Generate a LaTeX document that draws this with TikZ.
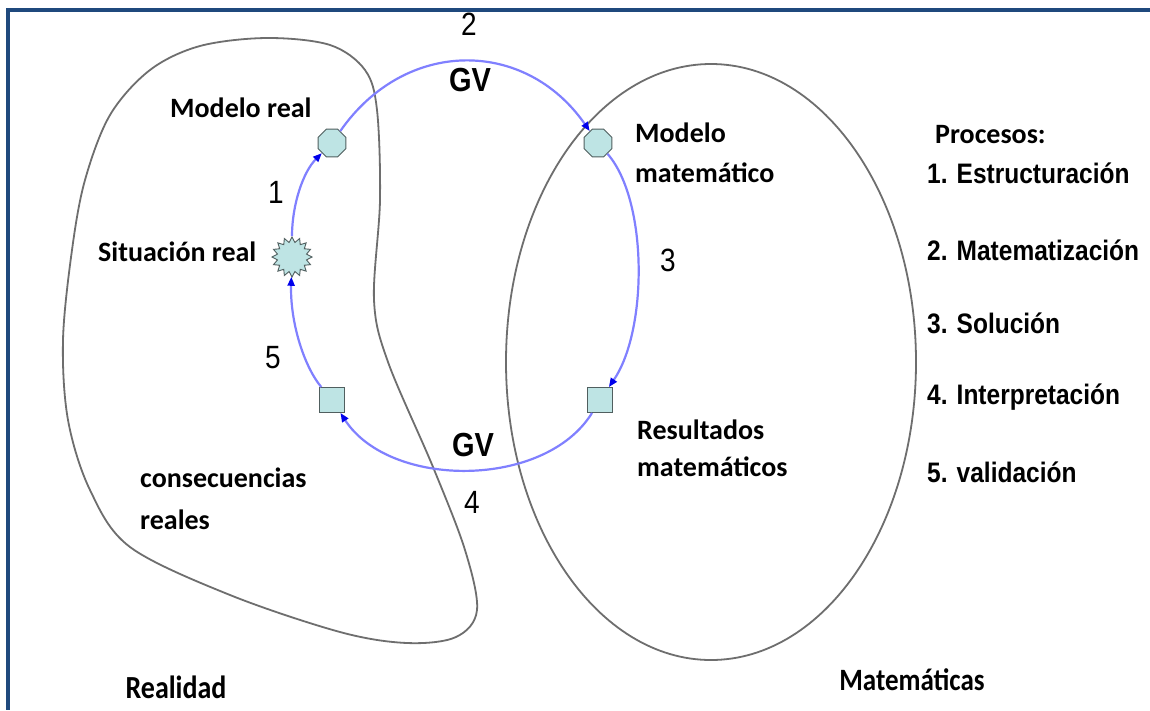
\documentclass[tikz,border=0pt]{standalone}
\usepackage{fontspec}
\usepackage{graphicx}
\setmainfont{Carlito}
\newfontfamily\arialfont{Liberation Sans}
\usetikzlibrary{shapes.geometric,arrows.meta}
\definecolor{framecol}{RGB}{31,73,125}
\definecolor{regioncol}{RGB}{110,110,110}
\definecolor{cyclecol}{RGB}{128,128,255}
\definecolor{tipcol}{RGB}{0,0,235}
\definecolor{stagefill}{RGB}{190,228,228}
\definecolor{stagedraw}{RGB}{80,95,95}
\newcommand{\stretchy}[1]{\scalebox{1}[1.15]{#1}}

\begin{document}
\begin{tikzpicture}[x=1pt,y=-1pt,
  region/.style={draw=regioncol,line width=1.8pt},
  flow/.style={draw=cyclecol,line width=2.2pt,-{Triangle[length=9pt,width=7pt,color=tipcol]}},
  stage/.style={fill=stagefill,draw=stagedraw,line width=0.9pt,inner sep=0pt},
  octa/.style={stage,regular polygon,regular polygon sides=8,minimum size=30pt},
  sq/.style={stage,rectangle,minimum size=25pt},
  burst/.style={stage,star,star points=16,star point ratio=1.35,minimum size=40pt},
  lbl/.style={font=\fontsize{28}{40}\selectfont\bfseries,inner sep=0pt,align=left},
  num/.style={font=\arialfont\fontsize{28}{30}\selectfont,inner sep=0pt},
  gv/.style={font=\arialfont\bfseries\fontsize{29}{30}\selectfont,inner sep=0pt},
  proc/.style={font=\arialfont\bfseries\fontsize{24.5}{30}\selectfont,inner sep=0pt,anchor=west},
]
\useasboundingbox (0,0) rectangle (1150,710);
\fill[white] (0,0) rectangle (1150,710);

% frame along the top and left edges
\fill[framecol] (6,8) rectangle (1150,12);
\fill[framecol] (6,8) rectangle (10,710);

% the two regions: reality and mathematics
\draw[region] plot[smooth cycle,tension=0.55] coordinates {
  (267,38) (330,45) (365,70) (377,110) (380,200) (374,300) (388,362)
  (433,467) (465,550) (477,610) (456,637) (407,643) (340,632) (230,595)
  (130,547) (90,490) (68,420) (63,340) (72,250) (85,180) (110,115)
  (150,70) (200,46)};
\draw[region] (711,362) ellipse [x radius=205, y radius=298];

% stages of the modelling cycle
\node[burst] (sit) at (292,257) {};
\node[octa] (mreal) at (332,143) {};
\node[octa] (mmat) at (598,143) {};
\node[sq] (rmat) at (600,400) {};
\node[sq] (creal) at (332,400) {};

% the cycle
\draw[flow] (sit) .. controls (292,205) and (303,172) .. (mreal);
\draw[flow] (mreal) .. controls (405,38) and (525,38) .. (mmat);
\draw[flow] (mmat) .. controls (648,200) and (648,330) .. (rmat);
\draw[flow] (rmat) .. controls (545,489) and (390,489) .. (creal);
\draw[flow] (creal) .. controls (303,365) and (290,320) .. (sit);

% stage labels
\node[lbl,anchor=west] (mrealtxt) at (170,108) {Modelo real};
\node[lbl,anchor=west] (sittxt) at (98,252) {Situación real};
\node[lbl,anchor=west] (mmattxt) at (635,153) {Modelo\\matemático};
\node[lbl,anchor=west,font=\fontsize{28}{37}\selectfont\bfseries] (rmattxt) at (637,448) {Resultados\\matemáticos};
\node[lbl,anchor=west,font=\fontsize{28}{42}\selectfont\bfseries] (crealtxt) at (140,499) {consecuencias\\reales};

% process numbers
\node[num] (n1) at (276,192) {\stretchy{1}};
\node[num] (n2) at (469,24) {\stretchy{2}};
\node[num] (n3) at (668,260) {\stretchy{3}};
\node[num] (n4) at (472,502) {\stretchy{4}};
\node[num] (n5) at (273,358) {\stretchy{5}};
\node[gv] (gvtop) at (470,80) {\stretchy{GV}};
\node[gv] (gvbot) at (473,445) {\stretchy{GV}};

% legend
\node[lbl,anchor=west] (proctitle) at (935,135) {Procesos:};
\node[proc] (p1) at (927,173) {\stretchy{1. Estructuración}};
\node[proc] (p2) at (927,250) {\stretchy{2. Matematización}};
\node[proc] (p3) at (927,323) {\stretchy{3. Solución}};
\node[proc] (p4) at (927,397) {\stretchy{4. Interpretación}};
\node[proc] (p5) at (927,472) {\stretchy{5. validación}};

% region names
\node[lbl] (realidad) at (176,687) {\stretchy{Realidad}};
\node[lbl,font=\fontsize{27}{30}\selectfont\bfseries] (matematicas) at (912,680) {\stretchy{Matemáticas}};
\end{tikzpicture}
\end{document}
